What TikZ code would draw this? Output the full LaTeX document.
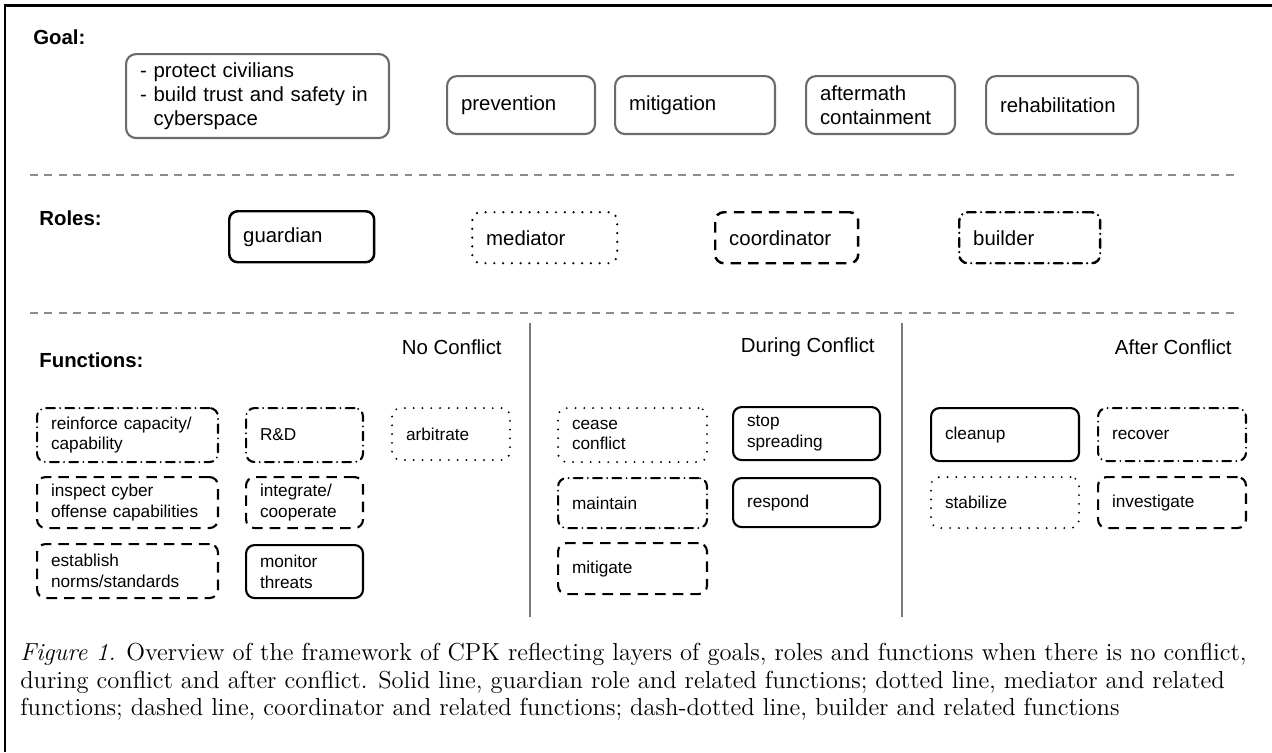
\documentclass[tikz,border=0pt]{standalone}
\usepackage{fontspec}
\usepackage{tikz}
\usetikzlibrary{positioning}
\newfontfamily\arialfont{Liberation Sans}
\definecolor{goalgray}{HTML}{6A6A6A}
\definecolor{sepgray}{HTML}{8C8C8C}
\definecolor{phasegray}{HTML}{7A7A7A}

\begin{document}
\begin{tikzpicture}[
			x=0.02cm, y=-0.02cm,
			font=\arialfont\fontsize{11.6}{13.6}\selectfont,
			layer/.style={
					anchor=west,
					inner sep=0pt,
					font=\arialfont\bfseries\fontsize{11.6}{13.6}\selectfont
				},
			phase/.style={
					anchor=east,
					inner sep=0pt
				},
			goalbox/.style={
					draw=goalgray,
					line width=1.2pt,
					rounded corners=0.2cm,
					anchor=north west,
					inner xsep=0.28cm,
					align=left
				},
			rolebox/.style={
					draw,
					line width=1.4pt,
					rounded corners=0.17cm,
					anchor=north west,
					inner xsep=0.28cm,
					align=left
				},
			funcbox/.style={
					rolebox,
					line width=1.2pt,
					font=\arialfont\fontsize{9.8}{11.8}\selectfont
				},
			guardianln/.style={},
			mediatorln/.style={
					dash pattern=on 0pt off 5pt,
					line cap=round
				},
			coordinatorln/.style={
					dash pattern=on 6pt off 4pt
				},
			builderln/.style={
					dash pattern=on 5pt off 3pt on 0pt off 3pt,
					line cap=round
				},
			sepline/.style={
					draw=sepgray,
					line width=1.1pt,
					dash pattern=on 4.5pt off 3.7pt
				},
			phaseline/.style={
					draw=phasegray,
					line width=0.9pt
				},
			caption/.style={
					anchor=north west,
					inner sep=0pt,
					align=left,
					font=\rmfamily\fontsize{14}{15.6}\selectfont
				}
			]

			\useasboundingbox (0,0) rectangle (1272,752);

			% ================= frame =================
			\draw[line width=1.7pt] (5,752) -- (5,5) -- (1272,5);

			% ================= Goal layer =================
			\node[layer] (goal) at (33,37) {Goal:};
			\node[goalbox, text width=4.70cm, minimum height=1.68cm] (protect) at (125,53)
			{- protect civilians\\- build trust and safety in\\\phantom{- }cyberspace};
			\node[goalbox, text width=2.40cm, minimum height=1.16cm] (prevention) at (446,75) {prevention};
			\node[goalbox, text width=2.64cm, minimum height=1.16cm] (mitigation) at (614,75) {mitigation};
			\node[goalbox, text width=2.42cm, minimum height=1.16cm] (aftermath) at (805,75) {aftermath\\containment};
			\node[goalbox, text width=2.48cm, minimum height=1.16cm] (rehab) at (985,75) {rehabilitation};

			\draw[sepline] (30,175) -- (1240,175);

			% ================= Roles layer =================
			\node[layer] (roles) at (39,218) {Roles:};
			\node[rolebox, guardianln, text width=2.34cm, minimum height=1.02cm] (guardian) at (228,210) {guardian};
			\node[rolebox, mediatorln, text width=2.34cm, minimum height=1.02cm] (mediator) at (471,211) {mediator};
			\node[rolebox, coordinatorln, text width=2.30cm, minimum height=1.02cm] (coordinator) at (714,211) {coordinator};
			\node[rolebox, builderln, text width=2.26cm, minimum height=1.02cm] (builder) at (958,211) {builder};

			\draw[sepline] (30,313) -- (1240,313);

			% ================= Functions layer =================
			\node[layer] (functions) at (39,360) {Functions:};
			\node[phase] (noconf) at (502,347) {No Conflict};
			\node[phase] (duringconf) at (875,347) {During Conflict};
			\node[phase] (afterconf) at (1232,347) {After Conflict};

			\draw[phaseline] (530,323) -- (530,617);
			\draw[phaseline] (902,323) -- (902,617);

			% no conflict
			\node[funcbox, builderln, text width=3.06cm, minimum height=1.08cm] (reinforce) at (36,407) {reinforce capacity/\\capability};
			\node[funcbox, builderln, text width=1.78cm, minimum height=1.08cm] (rnd) at (245,407) {R\&D};
			\node[funcbox, mediatorln, text width=1.80cm, minimum height=1.04cm] (arbitrate) at (391,407) {arbitrate};
			\node[funcbox, coordinatorln, text width=3.06cm, minimum height=1.02cm] (inspect) at (36,476) {inspect cyber\\offense capabilities};
			\node[funcbox, coordinatorln, text width=1.78cm, minimum height=1.02cm] (integrate) at (245,476) {integrate/\\cooperate};
			\node[funcbox, coordinatorln, text width=3.06cm, minimum height=1.08cm] (establish) at (36,543) {establish\\norms/standards};
			\node[funcbox, guardianln, text width=1.78cm, minimum height=1.06cm] (monitor) at (245,544) {monitor\\threats};

			% during conflict
			\node[funcbox, mediatorln, text width=2.42cm, minimum height=1.08cm] (cease) at (557,407) {cease\\conflict};
			\node[funcbox, guardianln, text width=2.38cm, minimum height=1.06cm] (stopspread) at (732,406) {stop\\spreading};
			\node[funcbox, builderln, text width=2.42cm, minimum height=1.00cm] (maintain) at (557,477) {maintain};
			\node[funcbox, guardianln, text width=2.38cm, minimum height=0.98cm] (respond) at (732,477) {respond};
			\node[funcbox, coordinatorln, text width=2.42cm, minimum height=1.02cm] (mitigate) at (557,542) {mitigate};

			% after conflict
			\node[funcbox, guardianln, text width=2.40cm, minimum height=1.06cm] (cleanup) at (930,407) {cleanup};
			\node[funcbox, builderln, text width=2.40cm, minimum height=1.06cm] (recover) at (1097,407) {recover};
			\node[funcbox, mediatorln, text width=2.40cm, minimum height=1.02cm] (stabilize) at (930,476) {stabilize};
			\node[funcbox, coordinatorln, text width=2.40cm, minimum height=1.02cm] (investigate) at (1097,476) {investigate};

			% ================= caption =================
			\node[caption] (cap) at (20,643)
			{\textit{Figure 1.} Overview of the framework of CPK reflecting layers of goals, roles and functions when there is no conflict,\\
				during conflict and after conflict. Solid line, guardian role and related functions; dotted line, mediator and related\\
				functions; dashed line, coordinator and related functions; dash-dotted line, builder and related functions};

		\end{tikzpicture}
\end{document}
